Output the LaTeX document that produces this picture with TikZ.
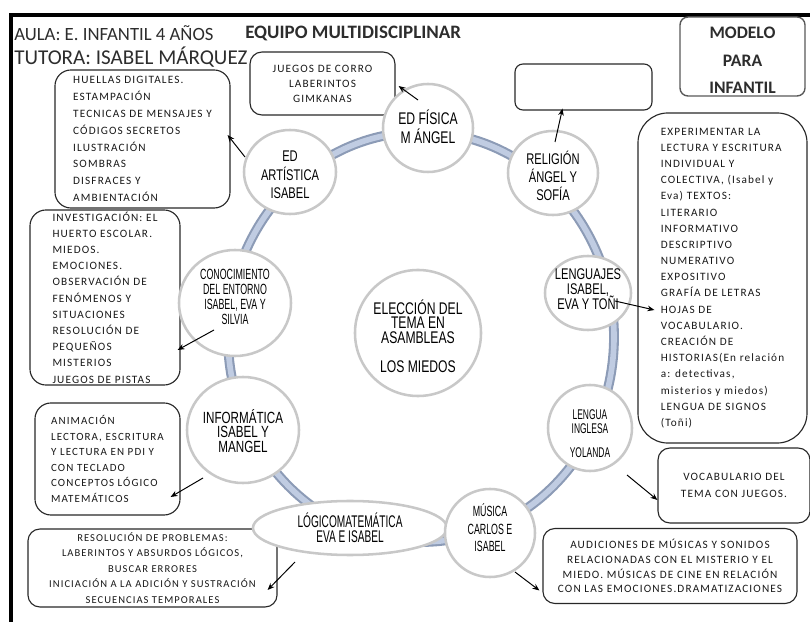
\documentclass[tikz,border=0pt]{standalone}
\usepackage{fontspec}
\setmainfont{Carlito}
\newfontfamily\boxfont[LetterSpace=10]{Carlito}
\newfontfamily\circfont[FakeStretch=0.72]{Liberation Sans}
\newfontfamily\narrowfont[FakeStretch=0.6]{Liberation Sans}
\newcommand\tightlines{\lineskiplimit=-20pt\relax}
\usetikzlibrary{arrows.meta, shapes.geometric, calc}
\definecolor{ringedge}{RGB}{140,155,182}
\definecolor{ringfill}{RGB}{192,204,226}
\definecolor{circedge}{RGB}{200,200,200}
\definecolor{boxedge}{RGB}{40,40,40}
\definecolor{headgray}{RGB}{45,45,45}

\tikzset{
  infobox/.style={draw=boxedge, line width=0.8pt, fill=white, rounded corners=0.3cm,
    inner sep=0pt, text=black!90, font=\boxfont\fontsize{8}{11.5}\selectfont},
  topic/.style={ellipse, draw=circedge, line width=1.8pt, fill=white, inner sep=0pt},
  topictxt/.style={align=center, inner sep=0pt},
  link/.style={-{Stealth[length=5pt,width=4pt]}, line width=0.7pt, black},
  headtext/.style={anchor=west, text=headgray, inner sep=0pt, font=\fontsize{13.3}{16}\selectfont}
}

\begin{document}
\begin{tikzpicture}[x=0.025cm, y=-0.025cm]
  \useasboundingbox (0,0) rectangle (810,622);

  % frame, top and left
  \draw[line width=2.2pt] (11,622) -- (11,15) -- (810,15);

  % the ring behind the circles
  \draw[ringedge, line width=7pt] (421,337) ellipse [x radius=193, y radius=205];
  \draw[ringfill, line width=4pt] (421,337) ellipse [x radius=193, y radius=205];

  % header
  \node[headtext] (aula) at (14,33) {AULA: E. INFANTIL 4 AÑOS};
  \node[headtext, font=\bfseries\fontsize{13.5}{16}\selectfont] (equipo) at (245,33) {EQUIPO MULTIDISCIPLINAR};
  \node[headtext, font=\fontsize{15}{16}\selectfont] (tutora) at (14,57) {TUTORA: ISABEL MÁRQUEZ};

  % boxes
  \node[infobox, minimum width=3.125cm, minimum height=1.975cm, rounded corners=0.2cm,
        draw=black!65, line width=1pt] (modelo) at (742.5,56.5) {};
  \node[topictxt, text=headgray, font=\bfseries\fontsize{12.5}{19.5}\selectfont]
       (modeloT) at ($(modelo)+(0,4)$) {MODELO\\PARA\\INFANTIL};
  \node[infobox, minimum width=3.425cm, minimum height=1.15cm, rounded corners=0.2cm] (vacio) at (583.5,87) {};
  \node[infobox, align=center, minimum width=3.625cm, minimum height=1.575cm,
        font=\boxfont\fontsize{8}{10.7}\selectfont]
       (juegos) at (322.5,83.5) {JUEGOS DE CORRO\\LABERINTOS\\GIMKANAS};
  \node[infobox, align=left, minimum width=4.375cm, minimum height=3.45cm, rounded corners=0.4cm,
        font=\boxfont\fontsize{8}{12}\selectfont]
       (huellas) at (142.5,139) {HUELLAS DIGITALES.\\ESTAMPACIÓN\\TECNICAS DE MENSAJES Y\\CÓDIGOS SECRETOS\\ILUSTRACIÓN\\SOMBRAS\\DISFRACES Y\\AMBIENTACIÓN};
  \node[infobox, align=left, minimum width=3.75cm, minimum height=4.375cm, rounded corners=0.4cm]
       (investig) at (105,297.5) {INVESTIGACIÓN: EL\\HUERTO ESCOLAR.\\MIEDOS.\\EMOCIONES.\\OBSERVACIÓN DE\\FENÓMENOS Y\\SITUACIONES\\RESOLUCIÓN DE\\PEQUEÑOS\\MISTERIOS\\JUEGOS DE PISTAS};
  \node[infobox, align=left, minimum width=3.625cm, minimum height=2.8cm, rounded corners=0.4cm,
        font=\boxfont\fontsize{7.8}{11}\selectfont]
       (animacion) at (107.5,459) {ANIMACIÓN\\LECTORA, ESCRITURA\\Y LECTURA EN PDI Y\\CON TECLADO\\CONCEPTOS LÓGICO\\MATEMÁTICOS};
  \node[infobox, align=center, minimum width=6.225cm, minimum height=1.95cm,
        font=\boxfont\fontsize{7.5}{11}\selectfont]
       (resolucion) at (152.5,568) {RESOLUCIÓN DE PROBLEMAS:\\LABERINTOS Y ABSURDOS LÓGICOS,\\BUSCAR ERRORES\\INICIACIÓN A LA ADICIÓN Y SUSTRACIÓN\\SECUENCIAS TEMPORALES};
  \node[infobox, align=left, minimum width=4.225cm, minimum height=8.25cm, rounded corners=0.75cm]
       (experim) at (722.5,278) {EXPERIMENTAR LA\\LECTURA Y ESCRITURA\\INDIVIDUAL Y\\COLECTIVA, (Isabel y\\Eva) TEXTOS:\\LITERARIO\\INFORMATIVO\\DESCRIPTIVO\\NUMERATIVO\\EXPOSITIVO\\GRAFÍA DE LETRAS\\HOJAS DE\\VOCABULARIO.\\CREACIÓN DE\\HISTORIAS(En relación\\a: detectivas,\\misterios y miedos)\\LENGUA DE SIGNOS\\(Toñi)};
  \node[infobox, align=center, minimum width=3.8cm, minimum height=1.875cm,
        font=\boxfont\fontsize{8}{12}\selectfont]
       (vocab) at (734,485.5) {VOCABULARIO DEL\\TEMA CON JUEGOS.};
  \node[infobox, align=center, minimum width=6.35cm, minimum height=1.875cm,
        font=\boxfont\fontsize{8}{10.5}\selectfont]
       (audic) at (670,566) {AUDICIONES DE MÚSICAS Y SONIDOS\\RELACIONADAS CON EL MISTERIO Y EL\\MIEDO. MÚSICAS DE CINE  EN RELACIÓN\\CON LAS EMOCIONES.DRAMATIZACIONES};

  % circles on the ring
  \node[topic, minimum width=2.25cm, minimum height=2.2cm] (edf) at (428,128) {};
  \node[topic, minimum width=2.25cm, minimum height=2.1cm] (relig) at (553,173) {};
  \node[topic, minimum width=2.3cm, minimum height=2.1cm] (artis) at (290,172) {};
  \node[topic, minimum width=2.8cm, minimum height=2.65cm] (conoc) at (235,303) {};
  \node[topic, minimum width=3.15cm, minimum height=3.15cm] (elecc) at (418,333) {};
  \node[topic, minimum width=2.15cm, minimum height=1.85cm] (lenguaj) at (588,293) {};
  \node[topic, minimum width=2.1cm, minimum height=2.15cm] (ingles) at (590,428) {};
  \node[topic, minimum width=2.8cm, minimum height=2.65cm] (inform) at (243,430) {};
  \node[topic, minimum width=4.85cm, minimum height=1.35cm] (logico) at (350,528) {};
  \node[topic, minimum width=2.25cm, minimum height=2.2cm] (musica) at (490,533) {};

  % circle texts
  \node[topictxt, font=\circfont\fontsize{12}{13.5}\selectfont] (edfT) at ($(edf)+(0,-1)$) {ED FÍSICA\\M ÁNGEL};
  \node[topictxt, font=\circfont\fontsize{11}{13}\selectfont] (religT) at ($(relig)+(0,3)$) {RELIGIÓN\\ÁNGEL Y\\SOFÍA};
  \node[topictxt, font=\circfont\fontsize{11}{13}\selectfont] (artisT) at ($(artis)+(0,3)$) {ED\\ARTÍSTICA\\ISABEL};
  \node[topictxt, font=\narrowfont\fontsize{10.5}{10.5}\selectfont\tightlines] (conocT) at ($(conoc)+(0,-6)$) {CONOCIMIENTO\\DEL ENTORNO\\ISABEL, EVA Y\\SILVIA};
  \node[topictxt, font=\circfont\fontsize{12}{10.5}\selectfont\tightlines] (eleccT) at ($(elecc)+(0,3)$) {ELECCIÓN DEL\\TEMA EN\\ASAMBLEAS\\[10pt]LOS MIEDOS};
  \node[topictxt, font=\circfont\fontsize{11}{10.5}\selectfont\tightlines] (lenguajT) at ($(lenguaj)+(0,-4)$) {LENGUAJES\\ISABEL,\\EVA Y TOÑI};
  \node[topictxt, font=\narrowfont\fontsize{10}{10}\selectfont\tightlines] (inglesT) at ($(ingles)+(0,6)$) {LENGUA\\INGLESA\\[7pt]YOLANDA};
  \node[topictxt, font=\circfont\fontsize{11.5}{10.5}\selectfont\tightlines] (informT) at ($(inform)+(0,1)$) {INFORMÁTICA\\ISABEL Y\\MANGEL};
  \node[topictxt, font=\narrowfont\fontsize{12}{11}\selectfont\tightlines] (logicoT) at (logico) {LÓGICOMATEMÁTICA\\EVA E ISABEL};
  \node[topictxt, font=\narrowfont\fontsize{10.5}{12.5}\selectfont] (musicaT) at ($(musica)+(0,-5)$) {MÚSICA\\CARLOS E\\ISABEL};

  % arrows from circles to boxes
  \draw[link] ($(edf)+(-10,-28)$) -- ($(juegos.east)+(3,2.5)$);
  \draw[link] ($(relig)+(2,-31)$) -- ($(vacio.south)+(-21,-2)$);
  \draw[link] ($(artis)+(-45,-15)$) -- ($(huellas.east)+(-3,-4)$);
  \draw[link] ($(conoc)+(-21,27)$) -- ($(investig.east)+(-3,52.5)$);
  \draw[link] ($(inform)+(-40,48)$) -- ($(animacion.east)+(-10,38)$);
  \draw[link] ($(logico)+(-55,34)$) -- ($(resolucion.east)+(-10,22)$);
  \draw[link] ($(musica)+(25,39)$) -- ($(audic.west)+(-3,24.5)$);
  \draw[link] ($(ingles)+(37,47)$) -- ($(vocab.west)+(0,14.5)$);
  \draw[link] ($(lenguaj)+(27,8)$) -- ($(experim.west)+(17,32)$);
\end{tikzpicture}
\end{document}
